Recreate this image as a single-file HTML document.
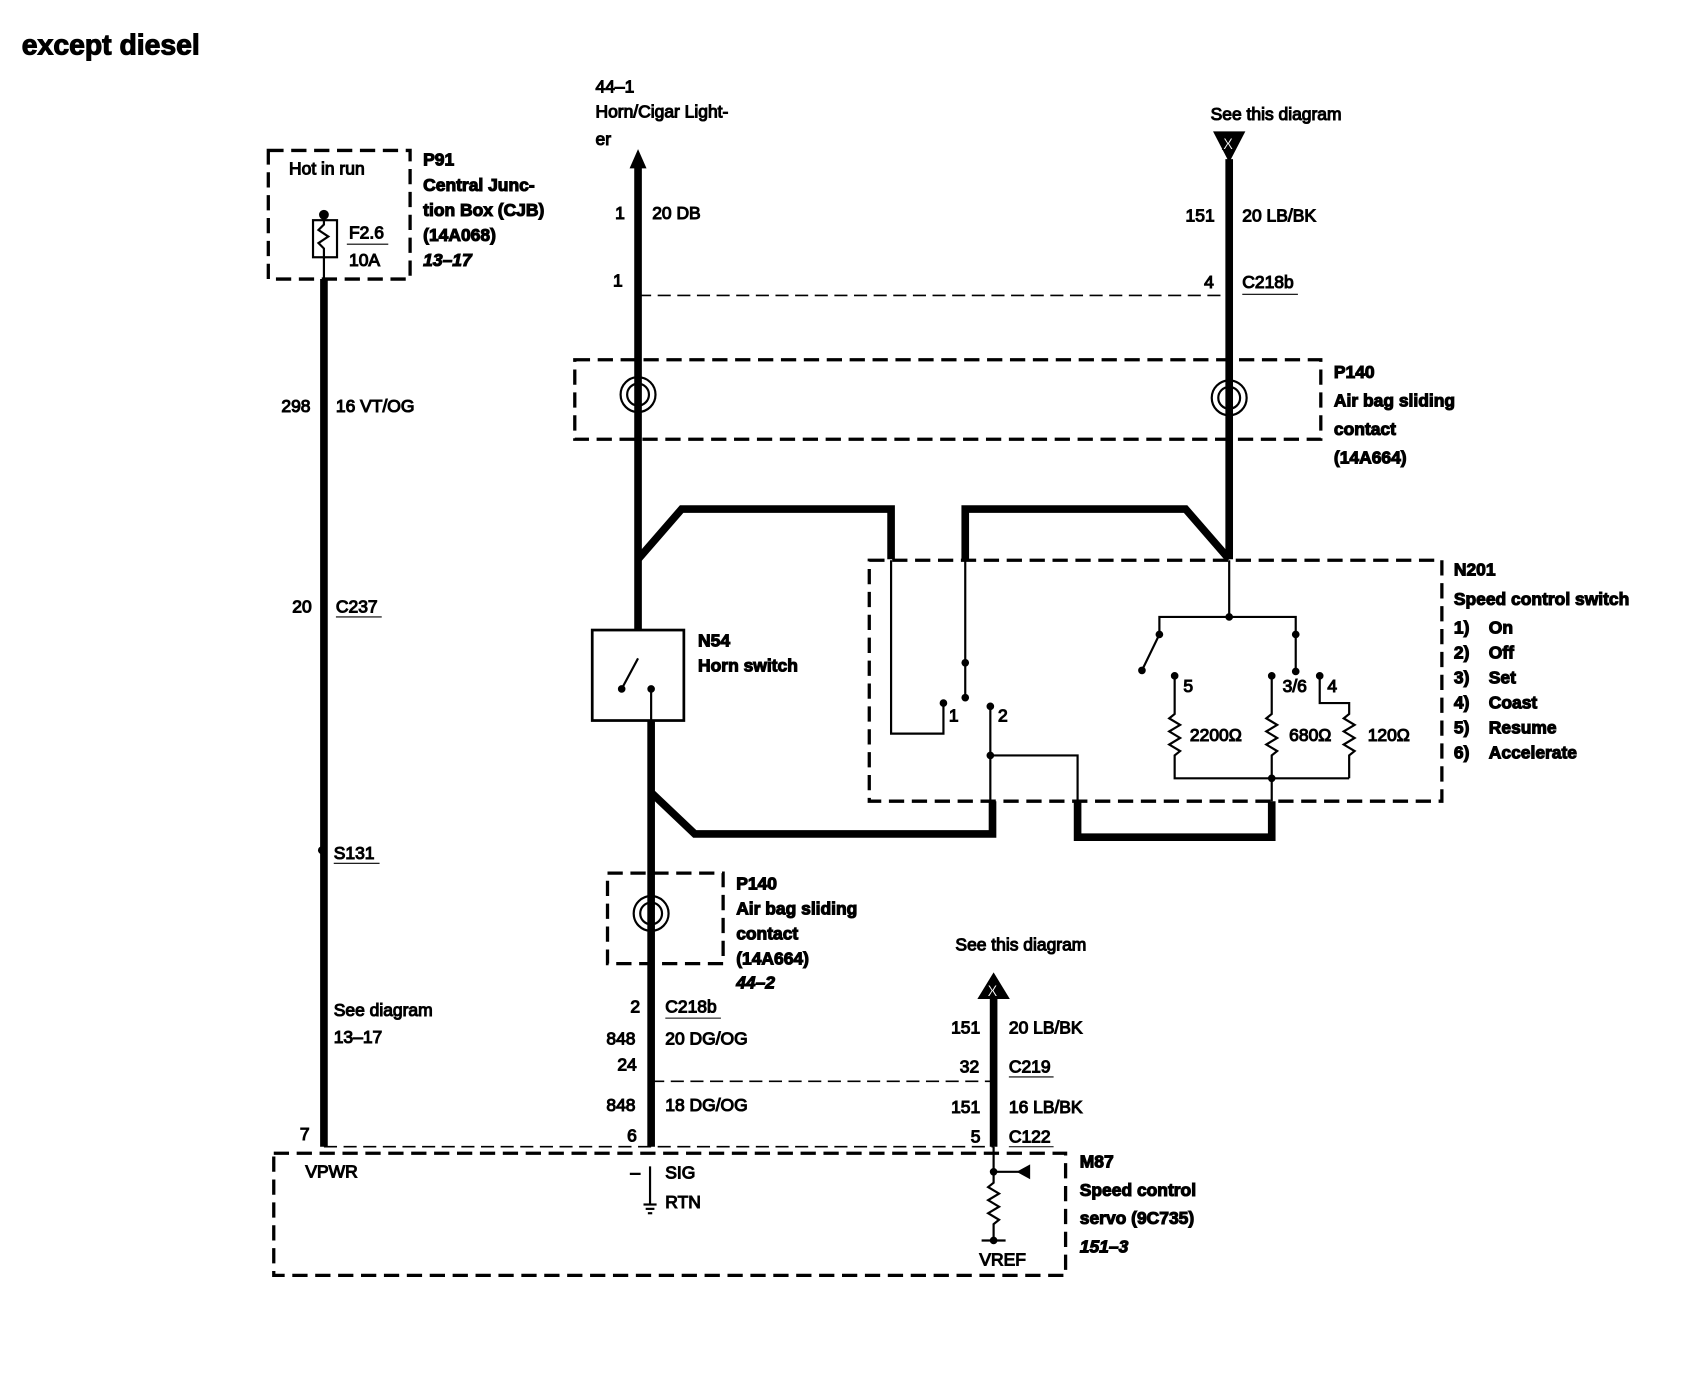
<!DOCTYPE html>
<html><head><meta charset="utf-8"><style>
html,body{margin:0;padding:0;background:#fff;}
svg{display:block;}
text{font-family:"Liberation Sans",Arial,sans-serif;font-size:16px;fill:#000;}
.b{font-weight:bold;}
.i{font-weight:bold;font-style:italic;}
</style></head><body>
<svg width="1708" height="1392" viewBox="0 0 1566 1277" preserveAspectRatio="none" xmlns="http://www.w3.org/2000/svg">
<g fill="none" stroke="#000">
<g stroke-width="3" stroke-dasharray="14,7">
<rect x="246" y="138" width="130" height="118"/>
<rect x="527" y="330" width="684" height="73"/>
<rect x="797" y="514" width="525" height="221"/>
<rect x="557" y="801" width="106" height="83"/>
<rect x="251" y="1058" width="726" height="112"/>
</g>
<g stroke-width="1.5" stroke-dasharray="12,6">
<line x1="585" y1="271" x2="1127" y2="271"/>
<line x1="597" y1="992" x2="911" y2="992"/>
<line x1="297" y1="1052" x2="911" y2="1052"/>
</g>
<g stroke-width="7" stroke-linejoin="miter">
<line x1="297" y1="256" x2="297" y2="1052"/>
<line x1="585" y1="150" x2="585" y2="578"/>
<line x1="1127" y1="146" x2="1127" y2="513"/>
<polyline points="585,513 625,467 817,467 817,513"/>
<polyline points="1127,513 1087,467 885,467 885,513"/>
<line x1="597" y1="661" x2="597" y2="1052"/>
<polyline points="597,727 637,765 910,765 910,735"/>
<polyline points="988,735 988,768 1166,768 1166,735"/>
<line x1="911" y1="912" x2="911" y2="1052"/>
</g>
<g stroke-width="2">
<rect x="287" y="202" width="22" height="34"/>
<path d="M297,197 v9 l-5,5 l9,6 l-9,6 l5,5 v28"/>
<rect x="543" y="578" width="84" height="83" stroke-width="2.5"/>
<line x1="570" y1="632" x2="585" y2="604"/>
<line x1="597" y1="632" x2="597" y2="661"/>
<polyline points="817,514 817,673 865,673 865,645"/>
<polyline points="885,514 885,640"/>
<polyline points="908,648 908,735"/>
<polyline points="908,693 988,693 988,735"/>
<line x1="1127" y1="514" x2="1127" y2="566"/>
<polyline points="1063,582 1063,566 1188,566 1188,616"/>
<line x1="1063" y1="582" x2="1047" y2="615"/>
<polyline points="1077,620 1077,655 1072,659 1082,665 1072,671 1082,677 1072,683 1082,689 1077,693 1077,714 1237,714"/>
<polyline points="1166,620 1166,655 1161,659 1171,665 1161,671 1171,677 1161,683 1171,689 1166,693 1166,735"/>
<polyline points="1210,620 1210,645 1237,645 1237,655 1232,659 1242,665 1232,671 1242,677 1232,683 1242,689 1237,693 1237,714"/>
<polyline points="911,1052 911,1085 906,1089 916,1095 906,1101 916,1107 906,1113 916,1119 911,1123 911,1138"/>
<line x1="900" y1="1138" x2="922" y2="1138"/>
<line x1="911" y1="1075" x2="935" y2="1075"/>
<line x1="596" y1="1070" x2="596" y2="1105"/>
<line x1="590" y1="1105" x2="602" y2="1105"/>
<line x1="592" y1="1109" x2="600" y2="1109"/>
<line x1="594" y1="1113" x2="598" y2="1113"/>
<circle cx="585" cy="362" r="16"/><circle cx="585" cy="362" r="10"/>
<circle cx="1127" cy="365" r="16"/><circle cx="1127" cy="365" r="10"/>
<circle cx="597" cy="838" r="16"/><circle cx="597" cy="838" r="10"/>
<line x1="318" y1="224" x2="356" y2="224" stroke-width="1"/>
<line x1="308" y1="566" x2="350" y2="566" stroke-width="1"/>
<line x1="306" y1="792" x2="348" y2="792" stroke-width="1"/>
<line x1="1139" y1="270" x2="1190" y2="270" stroke-width="1"/>
<line x1="610" y1="934" x2="661" y2="934" stroke-width="1"/>
<line x1="925" y1="988" x2="966" y2="988" stroke-width="1"/>
<line x1="925" y1="1052" x2="966" y2="1052" stroke-width="1"/>
</g>
<g fill="#000">
<circle cx="297" cy="197" r="4"/>
<circle cx="570" cy="632" r="3"/><circle cx="597" cy="632" r="3"/>
<circle cx="865" cy="645" r="3"/><circle cx="885" cy="608" r="3"/><circle cx="885" cy="640" r="3"/>
<circle cx="908" cy="648" r="3"/><circle cx="908" cy="693" r="3"/>
<circle cx="1127" cy="566" r="3"/><circle cx="1047" cy="615" r="3"/><circle cx="1063" cy="582" r="3"/>
<circle cx="1077" cy="620" r="3"/><circle cx="1166" cy="620" r="3"/><circle cx="1188" cy="582" r="3"/><circle cx="1188" cy="616" r="3"/>
<circle cx="1210" cy="620" r="3"/><circle cx="1166" cy="714" r="3"/>
<circle cx="911" cy="1075" r="3"/><circle cx="911" cy="1138" r="3"/><circle cx="295" cy="780" r="3"/>
<polygon points="585,138 578,154 592,154"/>
<polygon points="1113,121 1141,121 1127,148"/>
<polygon points="911,893 897,916 925,916"/>
<polygon points="933,1075 944,1069 944,1081"/>
</g>
<text x="1121" y="137" style="fill:#fff;font-size:15px;font-weight:bold">X</text>
<text x="905" y="914" style="fill:#fff;font-size:15px;font-weight:bold">X</text>

<text x="20" y="50" class="b" style="font-size:26px">except diesel</text>
<text x="265" y="160">Hot in run</text>
<text x="320" y="219">F2.6</text><text x="320" y="244">10A</text>
<text x="388" y="152" class="b">P91</text>
<text x="388" y="175" class="b">Central Junc-</text>
<text x="388" y="198" class="b">tion Box (CJB)</text>
<text x="388" y="221" class="b">(14A068)</text>
<text x="388" y="244" class="i">13–17</text>
<text x="258" y="378">298</text><text x="308" y="378">16 VT/OG</text>
<text x="268" y="562">20</text><text x="308" y="562">C237</text>
<text x="306" y="788">S131</text>
<text x="306" y="932">See diagram</text><text x="306" y="957">13–17</text>
<text x="275" y="1046">7</text><text x="280" y="1080">VPWR</text>
<text x="546" y="85">44–1</text><text x="546" y="108">Horn/Cigar Light-</text><text x="546" y="133">er</text>
<text x="564" y="201">1</text><text x="598" y="201">20 DB</text>
<text x="562" y="263">1</text>
<text x="1110" y="110">See this diagram</text>
<text x="1087" y="203">151</text><text x="1139" y="203">20 LB/BK</text>
<text x="1104" y="264">4</text><text x="1139" y="264">C218b</text>
<text x="1223" y="347" class="b">P140</text>
<text x="1223" y="373" class="b">Air bag sliding</text>
<text x="1223" y="399" class="b">contact</text>
<text x="1223" y="425" class="b">(14A664)</text>
<text x="640" y="593" class="b">N54</text><text x="640" y="616" class="b">Horn switch</text>
<text x="870" y="662">1</text><text x="915" y="662">2</text>
<text x="1085" y="635">5</text><text x="1176" y="635">3/6</text><text x="1217" y="635">4</text>
<text x="1091" y="680">2200Ω</text><text x="1182" y="680">680Ω</text><text x="1254" y="680">120Ω</text>
<text x="1333" y="528" class="b">N201</text>
<text x="1333" y="555" class="b">Speed control switch</text>
<text x="1333" y="581" class="b">1)</text><text x="1365" y="581" class="b">On</text>
<text x="1333" y="604" class="b">2)</text><text x="1365" y="604" class="b">Off</text>
<text x="1333" y="627" class="b">3)</text><text x="1365" y="627" class="b">Set</text>
<text x="1333" y="650" class="b">4)</text><text x="1365" y="650" class="b">Coast</text>
<text x="1333" y="673" class="b">5)</text><text x="1365" y="673" class="b">Resume</text>
<text x="1333" y="696" class="b">6)</text><text x="1365" y="696" class="b">Accelerate</text>
<text x="675" y="816" class="b">P140</text>
<text x="675" y="839" class="b">Air bag sliding</text>
<text x="675" y="862" class="b">contact</text>
<text x="675" y="885" class="b">(14A664)</text>
<text x="675" y="907" class="i">44–2</text>
<text x="876" y="872">See this diagram</text>
<text x="578" y="929">2</text><text x="610" y="929">C218b</text>
<text x="556" y="958">848</text><text x="610" y="958">20 DG/OG</text>
<text x="566" y="982">24</text>
<text x="556" y="1019">848</text><text x="610" y="1019">18 DG/OG</text>
<text x="575" y="1047">6</text>
<text x="578" y="1081">–</text><text x="610" y="1081">SIG</text><text x="610" y="1108">RTN</text>
<text x="872" y="948">151</text><text x="925" y="948">20 LB/BK</text>
<text x="880" y="984">32</text><text x="925" y="984">C219</text>
<text x="872" y="1021">151</text><text x="925" y="1021">16 LB/BK</text>
<text x="890" y="1048">5</text><text x="925" y="1048">C122</text>
<text x="898" y="1161">VREF</text>
<text x="990" y="1071" class="b">M87</text>
<text x="990" y="1097" class="b">Speed control</text>
<text x="990" y="1123" class="b">servo (9C735)</text>
<text x="990" y="1149" class="i">151–3</text>
</svg>
</body></html>
